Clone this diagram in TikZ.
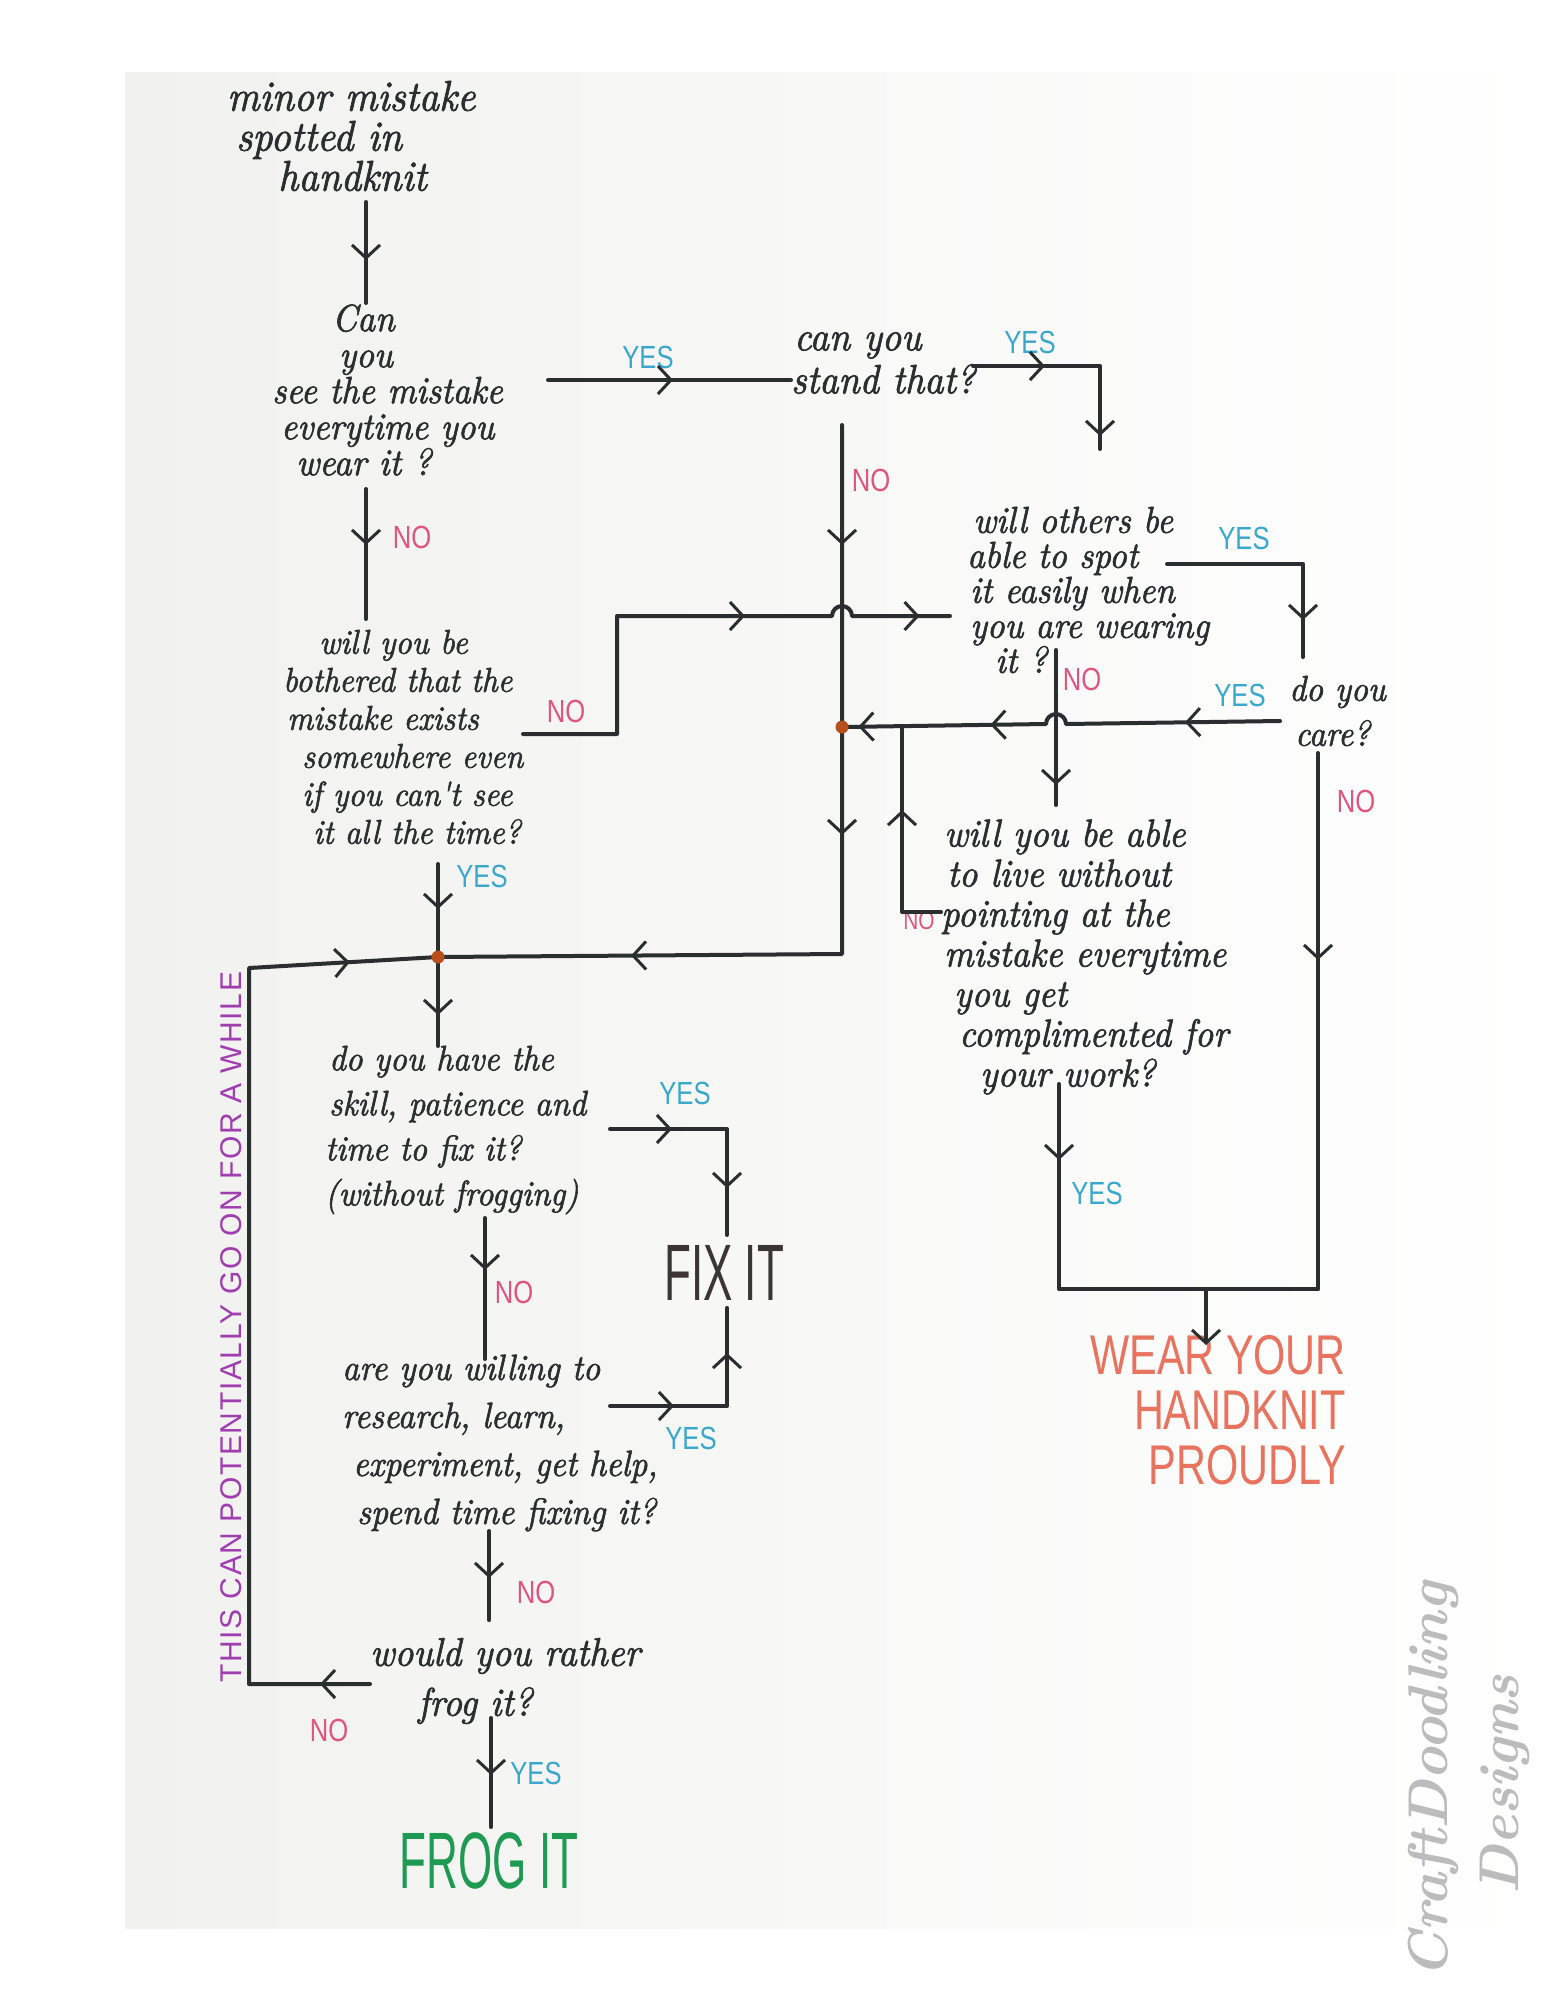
\documentclass[tikz,border=0pt]{standalone}
\usepackage{fontspec}
\usetikzlibrary{arrows.meta,decorations.markings}
\newfontfamily\hand{lmroman10-italic.otf}[FakeBold=1.6,FakeStretch=0.92]
\newfontfamily\labfont[FakeStretch=0.8]{Liberation Sans}
\newfontfamily\bigfont[FakeStretch=0.55]{Liberation Sans}
\newfontfamily\wearfont[FakeStretch=0.74]{Liberation Sans}
\newfontfamily\purpfont[LetterSpace=5.5]{Liberation Sans}
\definecolor{ink}{HTML}{2A2E2E}
\definecolor{yescol}{HTML}{3AA8CC}
\definecolor{nocol}{HTML}{E0557E}
\definecolor{paper}{HTML}{F1F1EF}
\definecolor{dotcol}{HTML}{B8501E}
\definecolor{purp}{HTML}{A03DB0}
\definecolor{wearcol}{HTML}{E8735F}
\definecolor{frogcol}{HTML}{1E9A52}
\definecolor{fixcol}{HTML}{3B3533}
\definecolor{wmcol}{HTML}{BCBCBC}
\tikzset{
  chev/.tip={Straight Barb[length=13pt,width=28pt,line width=3pt]},
  conn/.style={draw=ink,color=ink,line width=4pt,line join=round,line cap=round},
  ch/.style={postaction={decorate,decoration={markings,mark=at position #1 with {\arrow{chev}}}}},
  qbox/.style 2 args={text=ink,align=left,inner sep=0pt,anchor=west,font=\hand\fontsize{#1}{#2}\selectfont},
  yeslab/.style={text=yescol,inner sep=0pt,font=\labfont\fontsize{32}{32}\selectfont},
  nolab/.style={text=nocol,inner sep=0pt,font=\labfont\fontsize{32}{32}\selectfont},
  jdot/.style={circle,fill=dotcol,inner sep=0pt,minimum size=13pt},
  bigword/.style={inner sep=0pt,font=\bigfont\fontsize{80}{80}\selectfont},
}
\begin{document}
\begin{tikzpicture}[x=1pt,y=-1pt]
\useasboundingbox (0,0) rectangle (1545,2000);
\fill[white] (0,0) rectangle (1545,2000);
\shade[left color=paper,right color=white] (125,72) rectangle (1545,1928);

% ---------- text nodes ----------
\node[qbox={43}{40}] (start) at (227,136) {minor mistake\\\hspace*{9pt}spotted in\\\hspace*{51pt}handknit};
\node[qbox={38}{36}] (q1) at (272,390) {\hspace*{60pt}Can\\\hspace*{67pt}you\\see the mistake\\\hspace*{9pt}everytime you\\\hspace*{24pt}wear it ?};
\node[qbox={41}{43}] (q2) at (791,363) {\hspace*{3pt}can you\\stand that?};
\node[qbox={34.5}{38}] (q3) at (283,737) {\hspace*{36pt}will you be\\bothered that the\\\hspace*{4pt}mistake exists\\\hspace*{19pt}somewhere even\\\hspace*{19pt}if you can't see\\\hspace*{30pt}it all the time?};
\node[qbox={35.5}{45}] (q4) at (325,1130) {\hspace*{4pt}do you have the\\\hspace*{4pt}skill, patience and\\time to fix it?\\(without frogging)};
\node[qbox={36.5}{48}] (q5) at (342,1443) {are you willing to\\research, learn,\\\hspace*{11pt}experiment, get help,\\\hspace*{15pt}spend time fixing it?};
\node[qbox={40}{50}] (q6) at (370,1681) {would you rather\\\hspace*{48pt}frog it?};
\node[qbox={37.5}{35}] (q7) at (967,590) {\hspace*{6pt}will others be\\able to spot\\\hspace*{3pt}it easily when\\\hspace*{3pt}you are wearing\\\hspace*{28pt}it ?};
\node[qbox={36}{45}] (care) at (1289,711) {do you\\\hspace*{6pt}care?};
\node[qbox={39}{40}] (q8) at (941,957) {\hspace*{3pt}will you be able\\\hspace*{6pt}to live without\\pointing at the\\\hspace*{3pt}mistake everytime\\\hspace*{13pt}you get\\\hspace*{18pt}complimented for\\\hspace*{39pt}your work?};

\node[bigword,text=fixcol] (fix) at (724,1273) {FIX IT};
\node[bigword,text=frogcol] (frog) at (489,1861) {FROG IT};
\node[inner sep=0pt,align=right,anchor=east,text=wearcol,font=\wearfont\fontsize{56}{55}\selectfont] (wear) at (1346,1410) {WEAR YOUR\\HANDKNIT\\PROUDLY};

\node[rotate=90,inner sep=0pt,text=purp,font=\purpfont\fontsize{30}{30}\selectfont] (loop) at (231,1327) {THIS CAN POTENTIALLY GO ON FOR A WHILE};

\node[rotate=90,inner sep=0pt,text=wmcol,font=\fontsize{56}{56}\selectfont\bfseries\itshape] (wm1) at (1433,1780) {CraftDoodling};
\node[rotate=90,inner sep=0pt,text=wmcol,font=\fontsize{56}{56}\selectfont\bfseries\itshape] (wm2) at (1505,1785) {Designs};

% ---------- labels ----------
\node[yeslab] (y1) at (648,357) {YES};
\node[yeslab] (y2) at (1030,342) {YES};
\node[nolab] (n2) at (871,480) {NO};
\node[nolab] (n1) at (412,537) {NO};
\node[nolab] (n3) at (566,711) {NO};
\node[yeslab] (y3) at (482,876) {YES};
\node[yeslab] (y7) at (1244,538) {YES};
\node[nolab] (n7) at (1082,679) {NO};
\node[yeslab] (yc) at (1240,695) {YES};
\node[nolab] (nc) at (1356,801) {NO};
\node[nolab,font=\labfont\fontsize{26}{26}\selectfont] (n8) at (919,921) {NO};
\node[yeslab] (y8) at (1097,1193) {YES};
\node[yeslab] (y4) at (685,1093) {YES};
\node[nolab] (n4) at (514,1292) {NO};
\node[yeslab] (y5) at (691,1438) {YES};
\node[nolab] (n5) at (536,1592) {NO};
\node[nolab] (n6) at (329,1730) {NO};
\node[yeslab] (y6) at (536,1773) {YES};

% ---------- coordinates ----------
\coordinate (c1a) at (366,202); \coordinate (c1b) at (366,303);
\coordinate (c2a) at (548,380); \coordinate (c2b) at (791,380);
\coordinate (c3a) at (973,366); \coordinate (c3b) at (1100,366); \coordinate (c3c) at (1100,449);
\coordinate (c4a) at (842,425); \coordinate (c4b) at (842,954);
\coordinate (j1) at (438,957);
\coordinate (j2) at (842,727);
\coordinate (c5a) at (366,489); \coordinate (c5b) at (366,619);
\coordinate (c6a) at (523,734); \coordinate (c6b) at (617,734); \coordinate (c6c) at (617,616);
\coordinate (h1) at (832,616); \coordinate (c6d) at (950,616);
\coordinate (c7a) at (438,864);
\coordinate (c8b) at (438,1046);
\coordinate (c9a) at (610,1129); \coordinate (c9b) at (727,1129); \coordinate (c9c) at (727,1235);
\coordinate (c10a) at (485,1218); \coordinate (c10b) at (485,1359);
\coordinate (c11a) at (610,1406); \coordinate (c11b) at (727,1406); \coordinate (c11c) at (727,1308);
\coordinate (c12a) at (489,1531); \coordinate (c12b) at (489,1620);
\coordinate (c13a) at (370,1684); \coordinate (c13b) at (249,1684); \coordinate (c13c) at (249,968);
\coordinate (c14a) at (491,1718); \coordinate (c14b) at (491,1827);
\coordinate (c15a) at (1167,564); \coordinate (c15b) at (1303,564); \coordinate (c15c) at (1303,657);
\coordinate (c16a) at (1056,650); \coordinate (c16b) at (1056,805);
\coordinate (c17a) at (1280,721); \coordinate (h2) at (1066,724);
\coordinate (c18a) at (941,912); \coordinate (c18b) at (902,912); \coordinate (c18c) at (902,727);
\coordinate (c19a) at (1059,1084); \coordinate (c19b) at (1059,1289); \coordinate (c19c) at (1318,1289);
\coordinate (c20a) at (1318,753);
\coordinate (c21a) at (1206,1289); \coordinate (c21b) at (1206,1345);

% ---------- connectors ----------
\draw[conn,ch=58pt] (c1a) -- (c1b);
\draw[conn,ch=125pt] (c2a) -- (c2b);
\draw[conn,ch=72pt,ch=197pt] (c3a) -- (c3b) -- (c3c);
\draw[conn,ch=120pt,ch=410pt,ch=740pt] (c4a) -- (c4b) -- (j1);
\draw[conn,ch=56pt] (c5a) -- (c5b);
\draw[conn,ch=340pt,ch=526pt] (c6a) -- (c6b) -- (c6c) -- (h1) arc[start angle=180,end angle=360,radius=10] -- (c6d);
\draw[conn,ch=45pt] (c7a) -- (j1);
\draw[conn,ch=58pt] (j1) -- (c8b);
\draw[conn,ch=62pt,ch=176pt] (c9a) -- (c9b) -- (c9c);
\draw[conn,ch=52pt] (c10a) -- (c10b);
\draw[conn,ch=64pt,ch=170pt] (c11a) -- (c11b) -- (c11c);
\draw[conn,ch=47pt] (c12a) -- (c12b);
\draw[conn,ch=50pt,ch=938pt] (c13a) -- (c13b) -- (c13c) -- (j1);
\draw[conn,ch=57pt] (c14a) -- (c14b);
\draw[conn,ch=192pt] (c15a) -- (c15b) -- (c15c);
\draw[conn,ch=135pt] (c16a) -- (c16b);
\draw[conn,ch=95pt,ch=301pt,ch=433pt] (c17a) -- (h2) arc[start angle=0,end angle=-180,radius=10] -- (j2);
\draw[conn,ch=141pt] (c18a) -- (c18b) -- (c18c);
\draw[conn,ch=76pt] (c19a) -- (c19b) -- (c19c);
\draw[conn,ch=207pt] (c20a) -- (c19c);
\draw[conn,-{chev}] (c21a) -- (c21b);

\node[jdot] (d1) at (j1) {};
\node[jdot] (d2) at (j2) {};
\end{tikzpicture}
\end{document}
